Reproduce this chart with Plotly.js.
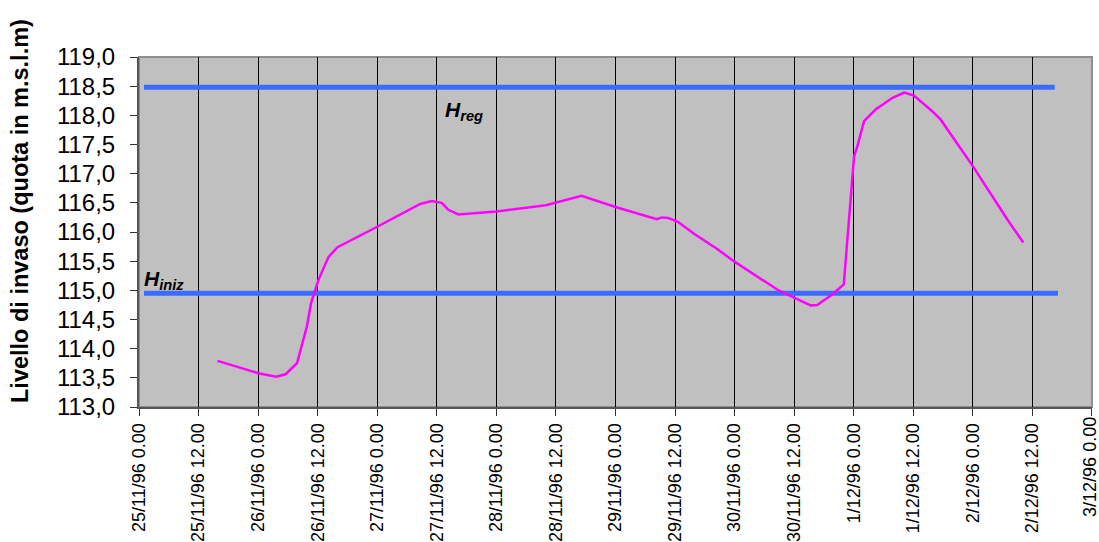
<!DOCTYPE html>
<html>
<head>
<meta charset="utf-8">
<script src="https://cdn.plot.ly/plotly-3.0.1.min.js"></script>
<style>html,body{margin:0;padding:0;background:#fff;}#chart{width:1099px;height:542px;}</style>
</head>
<body>
<div id="chart"></div>
<script>
// Water level series (Livello di invaso)
const levelTimes = [
  "1996-11-25 15:50","1996-11-26 00:00","1996-11-26 03:40","1996-11-26 05:30","1996-11-26 07:50",
  "1996-11-26 09:10","1996-11-26 09:50","1996-11-26 10:40","1996-11-26 12:10","1996-11-26 14:10",
  "1996-11-26 16:00","1996-11-27 00:00","1996-11-27 08:40","1996-11-27 11:00","1996-11-27 13:00",
  "1996-11-27 14:20","1996-11-27 16:20","1996-11-28 00:00","1996-11-28 08:30","1996-11-28 10:00",
  "1996-11-28 17:10","1996-11-29 00:20","1996-11-29 08:20","1996-11-29 09:20","1996-11-29 10:40",
  "1996-11-29 12:30","1996-11-29 15:50","1996-11-29 20:30","1996-11-29 23:50","1996-11-30 08:40",
  "1996-11-30 11:20","1996-11-30 15:20","1996-11-30 16:40","1996-11-30 19:40","1996-11-30 22:00",
  "1996-11-30 22:20","1996-11-30 22:35","1996-11-30 22:55","1996-11-30 23:25","1996-12-01 00:05",
  "1996-12-01 00:45","1996-12-01 02:05","1996-12-01 04:25","1996-12-01 06:25","1996-12-01 07:50",
  "1996-12-01 10:10","1996-12-01 12:10","1996-12-01 13:30","1996-12-01 15:50","1996-12-01 17:30",
  "1996-12-02 00:00","1996-12-02 07:00","1996-12-02 10:10"
];
const levelValues = [
  113.79,113.58,113.52,113.56,113.75,
  114.15,114.38,114.78,115.18,115.57,
  115.74,116.09,116.48,116.53,116.50,
  116.38,116.30,116.35,116.45,116.46,
  116.62,116.42,116.22,116.25,116.24,
  116.18,115.97,115.71,115.50,115.01,
  114.90,114.74,114.75,114.93,115.10,
  115.47,115.71,116.04,116.55,117.30,
  117.47,117.90,118.10,118.21,118.30,
  118.39,118.34,118.24,118.07,117.93,
  117.13,116.21,115.82
];
// Reference levels
const hRegTimes = ["1996-11-25 01:00","1996-12-02 16:30"];
const hRegValues = [118.48,118.48];
const hInizTimes = ["1996-11-25 01:00","1996-12-02 17:10"];
const hInizValues = [114.95,114.95];
const yAxisTitle = "Livello di invaso (quota in m.s.l.m)";
const hRegLabel = "<b><i>H<sub>reg</sub></i></b>";
const hInizLabel = "<b><i>H<sub>iniz</sub></i></b>";
const lastTickTime = "1996-12-03 00:00";
const lastTickLabel = "3/12/96 0.00";

const FONT = "Arial, 'Liberation Sans', sans-serif";

const traces = [
  {x: hRegTimes, y: hRegValues, type: "scatter", mode: "lines",
   line: {color: "#3D6BFF", width: 5}, hoverinfo: "skip"},
  {x: hInizTimes, y: hInizValues, type: "scatter", mode: "lines",
   line: {color: "#3D6BFF", width: 5}, hoverinfo: "skip"},
  {x: levelTimes, y: levelValues, type: "scatter", mode: "lines",
   line: {color: "#FF00FF", width: 2.5}}
];

const layout = {
  width: 1099, height: 542,
  margin: {l: 139, r: 7, t: 57, b: 135, pad: 0},
  paper_bgcolor: "#FFFFFF",
  plot_bgcolor: "#C0C0C0",
  showlegend: false,
  separators: ",.",
  font: {family: FONT, color: "#000"},
  xaxis: {
    type: "date",
    range: ["1996-11-25 00:00", "1996-12-03 00:01"],
    dtick: 43200000,
    tick0: "1996-11-25 00:00",
    tickformat: "%-d/%m/%y %-H.%M",
    tickangle: -90,
    tickfont: {family: FONT, size: 18, color: "#000"},
    showgrid: true, gridcolor: "#000000", gridwidth: 1,
    ticks: "outside", ticklen: 7, tickcolor: "#333", tickwidth: 1,
    showline: true, linecolor: "#555", linewidth: 2, mirror: false,
    zeroline: false, fixedrange: true
  },
  yaxis: {
    range: [113, 119],
    dtick: 0.5, tick0: 113,
    tickformat: ".1f",
    tickfont: {family: FONT, size: 24, color: "#000"},
    ticklabelstandoff: 10,
    showgrid: false,
    ticks: "outside", ticklen: 7, tickcolor: "#333", tickwidth: 1,
    showline: true, linecolor: "#555", linewidth: 2, mirror: false,
    zeroline: false, fixedrange: true
  },
  shapes: [
    {type: "rect", xref: "paper", yref: "paper", x0: 0, x1: 1, y0: 0, y1: 1,
     line: {color: "#8F8F8F", width: 2}, layer: "below"}
  ],
  annotations: [
    {text: yAxisTitle, xref: "paper", yref: "paper", x: 0, y: 0.56,
     xanchor: "center", yanchor: "middle", xshift: -119, textangle: -90,
     showarrow: false, font: {family: FONT, size: 23.5, color: "#000", weight: "bold"}},
    {text: hRegLabel, x: "1996-11-27 13:20", y: 118.08, xanchor: "left", yanchor: "middle",
     showarrow: false, font: {family: FONT, size: 21, color: "#000"}},
    {text: hInizLabel, x: "1996-11-25 00:40", y: 115.18, xanchor: "left", yanchor: "middle",
     showarrow: false, font: {family: FONT, size: 21, color: "#000"}},
    {text: lastTickLabel, x: lastTickTime, yref: "paper", y: 0, xanchor: "center", yanchor: "top",
     yshift: -9, xshift: -2, borderpad: 0, textangle: -90, showarrow: false,
     font: {family: FONT, size: 18, color: "#000"}}
  ]
};

Plotly.newPlot("chart", traces, layout, {displayModeBar: false, staticPlot: true});
</script>
</body>
</html>
